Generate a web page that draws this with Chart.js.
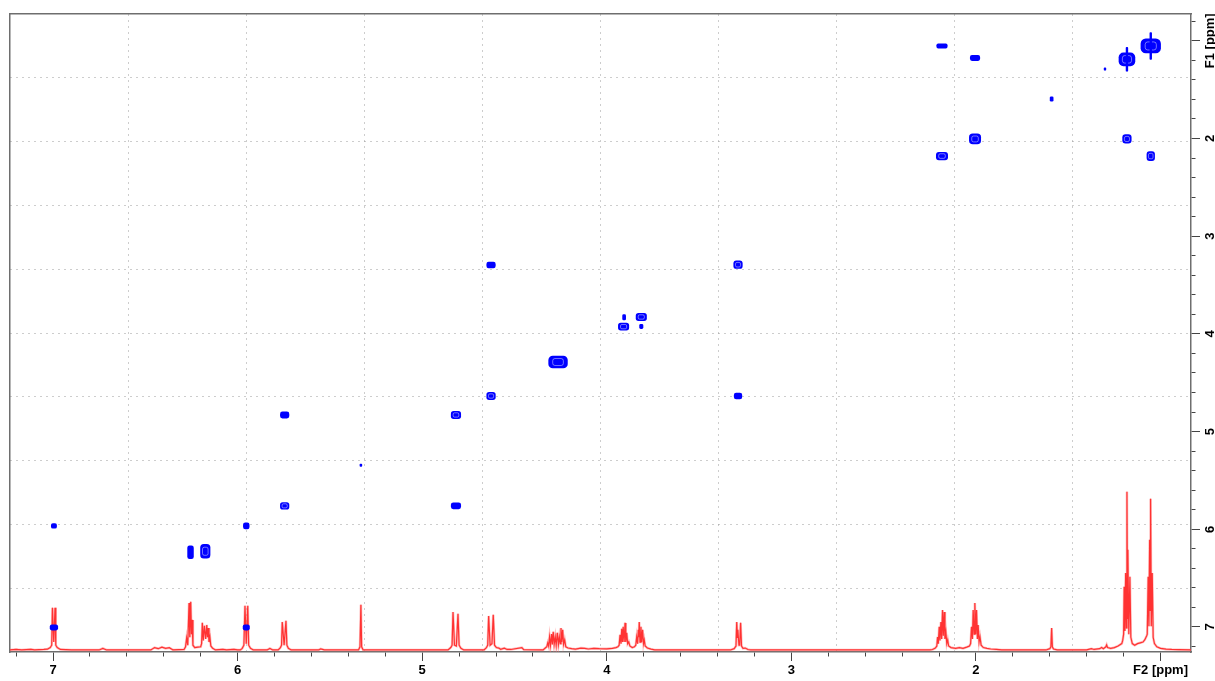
<!DOCTYPE html>
<html>
<head>
<meta charset="utf-8">
<script src="https://cdn.jsdelivr.net/npm/chart.js@4/dist/chart.umd.min.js"></script>
<style>
  html, body { margin: 0; padding: 0; background: #fff; }
  canvas { display: block; }
</style>
</head>
<body>
<canvas id="cosyChart" width="1215" height="681"></canvas>
<script>
'use strict';

// F2 / F1 window (ppm)
const f2Range = [0.835, 7.233];
const f1Range = [0.726, 7.256];

// 1H projection along F2: [ppm, intensity], tallest line = 100
const projection = [
  [7.233, 0], [7.20, 0.3], [7.17, 0], [7.12, 0.4], [7.10, 0], [7.05, 0.3], [7.03, 0.5],
  [7.015, 1.5], [7.007, 3], [7.003, 26.6], [6.996, 5], [6.989, 26.6], [6.985, 3], [6.977, 1.5],
  [6.96, 0.3], [6.90, 0], [6.75, 0], [6.73, 1], [6.71, 0],
  [6.47, 0], [6.45, 1.5], [6.43, 0.8], [6.41, 1.8], [6.39, 1], [6.37, 1.4], [6.35, 0],
  [6.29, 0.3], [6.282, 2], [6.276, 7.6], [6.27, 3], [6.263, 29.7], [6.259, 8], [6.254, 30.4],
  [6.25, 10], [6.247, 19], [6.242, 3], [6.232, 1.5], [6.215, 1.8],
  [6.200, 2], [6.195, 4], [6.191, 17.1], [6.186, 6], [6.180, 15.2], [6.173, 7], [6.167, 15.8],
  [6.163, 8], [6.159, 13.9], [6.155, 5], [6.150, 8.2], [6.145, 2.5], [6.135, 1], [6.12, 0],
  [6.08, 0.4], [6.06, 0], [6.02, 0.4], [6.0, 0],
  [5.985, 0], [5.975, 1], [5.966, 3], [5.960, 27.9], [5.953, 4], [5.945, 27.9], [5.940, 3],
  [5.930, 1], [5.915, 0], [5.84, 0], [5.825, 1], [5.81, 0],
  [5.78, 0], [5.768, 1.5], [5.762, 3], [5.758, 17.7], [5.748, 3], [5.738, 18.4], [5.733, 3],
  [5.725, 1], [5.71, 0], [5.56, 0], [5.55, 0.7], [5.53, 0],
  [5.345, 0], [5.337, 2], [5.332, 28.5], [5.328, 2], [5.32, 0],
  [4.86, 0], [4.845, 1.5], [4.838, 3], [4.833, 24], [4.825, 3], [4.815, 2.5], [4.806, 22.8],
  [4.800, 3], [4.79, 1], [4.775, 0],
  [4.665, 0], [4.652, 1.5], [4.645, 3], [4.640, 21.5], [4.632, 3], [4.622, 4], [4.615, 22.2],
  [4.608, 3], [4.598, 1.5], [4.585, 1.2], [4.575, 0.4], [4.555, 1.1], [4.54, 0.3], [4.52, 0.3],
  [4.46, 1.5], [4.45, 0.2], [4.36, 0],
  [4.345, 0], [4.33, 1.5], [4.325, 2], [4.320, 4.4], [4.315, 2.5], [4.310, 8.2], [4.305, 3],
  [4.299, 10.1], [4.295, 3.5], [4.290, 11.4], [4.285, 3.5], [4.279, 8.2], [4.274, 3],
  [4.268, 10.8], [4.262, 3.5], [4.257, 8.2], [4.252, 4], [4.248, 13.9], [4.244, 5],
  [4.239, 12.7], [4.234, 3.5], [4.228, 6.3], [4.222, 2], [4.21, 1.2], [4.19, 0.8], [4.17, 0.5],
  [4.14, 1.2], [4.12, 1], [4.10, 0.6], [4.07, 1], [4.04, 0.8], [4.00, 0.7], [3.97, 1], [3.95, 1.5],
  [3.94, 2], [3.933, 3], [3.928, 9.5], [3.923, 4], [3.919, 13.3], [3.915, 5], [3.911, 14.6],
  [3.906, 5], [3.901, 17.1], [3.897, 5], [3.892, 10.8], [3.887, 4], [3.881, 5.1], [3.875, 2.5],
  [3.862, 1.5], [3.85, 2],
  [3.843, 3], [3.838, 8.2], [3.833, 4], [3.829, 12.7], [3.827, 8], [3.824, 17.7], [3.820, 5],
  [3.815, 14.6], [3.811, 5], [3.806, 12.7], [3.801, 4], [3.797, 6.3], [3.792, 2.5], [3.78, 1.2],
  [3.76, 0.5], [3.74, 0],
  [3.33, 0], [3.31, 0.8], [3.30, 2.5], [3.296, 17.7], [3.292, 8], [3.290, 12.7], [3.284, 3],
  [3.280, 3], [3.275, 17.1], [3.270, 2.5], [3.262, 1], [3.25, 1.2], [3.235, 0.3], [3.22, 0],
  [2.25, 0], [2.235, 0.3], [2.22, 1.2], [2.212, 2.5], [2.208, 8.2], [2.204, 4], [2.199, 14.6],
  [2.195, 6], [2.190, 17.7], [2.186, 7], [2.181, 25.3], [2.177, 9], [2.172, 24], [2.168, 7],
  [2.163, 11.4], [2.158, 4], [2.153, 6.3], [2.148, 2.5], [2.135, 1.5], [2.11, 1], [2.09, 1.5],
  [2.07, 1], [2.05, 1.8],
  [2.035, 2.5], [2.029, 4], [2.024, 14.6], [2.019, 7], [2.015, 25.3], [2.010, 10], [2.006, 29.7],
  [2.001, 10], [1.997, 25.3], [1.992, 7], [1.988, 15.8], [1.983, 5], [1.978, 8.2], [1.972, 3],
  [1.96, 1.5], [1.94, 1], [1.92, 0.6], [1.89, 0.3], [1.86, 0],
  [1.62, 0], [1.60, 0.8], [1.594, 2], [1.590, 13.9], [1.586, 2], [1.58, 0.6], [1.56, 0],
  [1.40, 0], [1.375, 0.8], [1.36, 0.3], [1.33, 0.8], [1.319, 1.5], [1.31, 0.8], [1.296, 2],
  [1.292, 3.2], [1.287, 1.5], [1.27, 1], [1.25, 1.5], [1.23, 2.5], [1.21, 4],
  [1.205, 6], [1.200, 10], [1.197, 39.9], [1.193, 12], [1.189, 48.7], [1.185, 14], [1.182, 100],
  [1.179, 20], [1.177, 63.3], [1.172, 10], [1.166, 46.2], [1.161, 8], [1.153, 4], [1.14, 3],
  [1.125, 4], [1.11, 4.5], [1.095, 5], [1.085, 6.5], [1.075, 9],
  [1.072, 10], [1.067, 46.2], [1.063, 15], [1.059, 69.6], [1.057, 25], [1.054, 95.6],
  [1.050, 15], [1.045, 48.7], [1.040, 8], [1.033, 4], [1.02, 2], [1.00, 1], [0.97, 0.5],
  [0.94, 0.3], [0.90, 0.2], [0.835, 0]
];

// COSY cross / diagonal peaks: centre (F2, F1) and contour span (ppm)
const peakF2 = [6.995, 6.995, 6.255, 6.175, 5.953, 5.953, 5.745, 5.745, 5.332, 4.817,
  4.817, 4.627, 4.627, 4.264, 3.906, 3.909, 3.813, 3.813, 3.289, 3.289,
  2.184, 2.184, 2.005, 2.005, 1.590, 1.301, 1.182, 1.182, 1.053, 1.053,
  1.182, 1.053];
const peakF1 = [5.965, 7.005, 6.235, 6.225, 5.965, 7.005, 4.830, 5.760, 5.345, 4.830,
  5.760, 3.295, 4.636, 4.288, 3.830, 3.926, 3.827, 3.924, 3.292, 4.636,
  1.053, 2.180, 1.176, 2.005, 1.596, 1.289, 1.190, 1.190, 1.053, 1.053,
  2.005, 2.180];
const spanF2 = [0.032, 0.045, 0.035, 0.055, 0.035, 0.038, 0.050, 0.050, 0.014, 0.055,
  0.055, 0.050, 0.050, 0.105, 0.020, 0.060, 0.060, 0.022, 0.050, 0.045,
  0.060, 0.065, 0.055, 0.065, 0.020, 0.012, 0.090, 0.012, 0.110, 0.012,
  0.050, 0.045];
const spanF1 = [0.055, 0.060, 0.140, 0.150, 0.070, 0.060, 0.070, 0.075, 0.030, 0.080,
  0.070, 0.065, 0.080, 0.130, 0.060, 0.080, 0.080, 0.050, 0.085, 0.065,
  0.050, 0.085, 0.060, 0.110, 0.050, 0.030, 0.140, 0.250, 0.150, 0.280,
  0.095, 0.100];

const axisFont = { family: "'Liberation Sans', Arial, sans-serif", size: 13, weight: 'bold', lineHeight: 1 };
const frameColor = '#6e6e6e';
const gridColor = '#9a9a9a';

const isWhole = (v) => Math.abs(v - Math.round(v)) < 1e-6;

// contour blobs drawn at the positions the scatter elements were laid out at
const contourPlugin = {
  id: 'contours',
  afterDatasetsDraw(chart) {
    const meta = chart.getDatasetMeta(2);
    const xs = chart.scales.x;
    const ys = chart.scales.y;
    const { ctx, chartArea } = chart;
    ctx.save();
    ctx.beginPath();
    ctx.rect(chartArea.left, chartArea.top, chartArea.right - chartArea.left, chartArea.bottom - chartArea.top);
    ctx.clip();
    meta.data.forEach((pt, i) => {
      const rx = Math.max(1.2, Math.abs(xs.getPixelForValue(peakF2[i] + spanF2[i] / 2) - pt.x));
      const ry = Math.max(1.2, Math.abs(ys.getPixelForValue(peakF1[i] + spanF1[i] / 2) - pt.y));
      const r = Math.min(rx, ry) * 0.7;
      ctx.fillStyle = '#0000ff';
      ctx.beginPath();
      ctx.roundRect(pt.x - rx, pt.y - ry, rx * 2, ry * 2, r);
      ctx.fill();
      if (rx >= 4 && ry >= 3.5) {
        // inner contour level
        ctx.strokeStyle = 'rgba(255,255,255,0.55)';
        ctx.lineWidth = 0.8;
        ctx.beginPath();
        ctx.roundRect(pt.x - rx * 0.55, pt.y - ry * 0.55, rx * 1.1, ry * 1.1, r * 0.5);
        ctx.stroke();
      }
    });
    ctx.restore();
  }
};

// F1 labels sit rotated beside the right-hand axis
const f1LabelPlugin = {
  id: 'f1Labels',
  afterDraw(chart) {
    const ys = chart.scales.y;
    const { ctx } = chart;
    ctx.save();
    ctx.fillStyle = '#000';
    ctx.font = `${axisFont.weight} ${axisFont.size}px ${axisFont.family}`;
    ctx.textAlign = 'center';
    ctx.textBaseline = 'middle';
    ys.ticks.forEach((t) => {
      if (!isWhole(t.value)) return;
      const v = Math.round(t.value);
      ctx.save();
      ctx.translate(ys.left + 19, ys.getPixelForValue(t.value));
      ctx.rotate(-Math.PI / 2);
      ctx.fillText(v === 1 ? 'F1 [ppm]' : String(v), 0, 0);
      ctx.restore();
    });
    ctx.restore();
  }
};

const tickDash = (ctx) => (isWhole(ctx.tick.value) ? [] : [4, 40]);
const edgeless = (ctx) => (ctx.tick.value === 0 || ctx.tick.value === 10 ? 'rgba(0,0,0,0)' : gridColor);

const spectrum = projection.map(([x, y]) => ({ x, y }));

const chart = new Chart(document.getElementById('cosyChart').getContext('2d'), {
  type: 'scatter',
  data: {
    datasets: [
      {
        type: 'line',
        data: spectrum,
        xAxisID: 'x',
        yAxisID: 'yI',
        borderColor: 'rgba(255,110,110,0.45)',
        borderWidth: 2.5,
        pointRadius: 0,
        tension: 0
      },
      {
        type: 'line',
        data: spectrum,
        xAxisID: 'x',
        yAxisID: 'yI',
        borderColor: '#ff0000',
        borderWidth: 1.2,
        pointRadius: 0,
        tension: 0
      },
      {
        data: peakF2.map((x, i) => ({ x, y: peakF1[i] })),
        xAxisID: 'x',
        yAxisID: 'y',
        pointRadius: 0,
        pointHoverRadius: 0
      }
    ]
  },
  options: {
    responsive: false,
    animation: false,
    events: [],
    layout: { padding: { top: 14, left: 10, right: 15, bottom: 1 } },
    plugins: {
      legend: { display: false },
      tooltip: { enabled: false }
    },
    scales: {
      x: {
        type: 'linear',
        position: 'bottom',
        reverse: true,
        min: f2Range[0],
        max: f2Range[1],
        grid: {
          drawOnChartArea: false,
          tickLength: 9,
          tickColor: '#444',
          tickBorderDash: tickDash
        },
        border: { color: frameColor, width: 1.5 },
        ticks: {
          stepSize: 0.2,
          includeBounds: false,
          autoSkip: false,
          maxRotation: 0,
          padding: 3,
          color: '#000',
          font: axisFont,
          callback: (v) => (isWhole(v) ? (Math.round(v) === 1 ? 'F2 [ppm]' : String(Math.round(v))) : '')
        }
      },
      y: {
        type: 'linear',
        position: 'right',
        reverse: true,
        min: f1Range[0],
        max: f1Range[1],
        grid: {
          drawOnChartArea: false,
          tickLength: 9,
          tickColor: '#444',
          tickBorderDash: tickDash
        },
        border: { color: frameColor, width: 1.5 },
        ticks: { stepSize: 0.2, includeBounds: false, autoSkip: false, display: false }
      },
      yI: {
        type: 'linear',
        display: false,
        min: -1.3,
        max: 402
      },
      gx: {
        type: 'linear',
        axis: 'x',
        position: 'top',
        min: 0,
        max: 10,
        grid: { color: edgeless, drawTicks: false, lineWidth: 1 },
        border: { color: frameColor, width: 1.5, dash: [1, 5] },
        ticks: { stepSize: 1, display: false }
      },
      gy: {
        type: 'linear',
        axis: 'y',
        position: 'left',
        min: 0,
        max: 10,
        grid: { color: edgeless, drawTicks: false, lineWidth: 1 },
        border: { color: frameColor, width: 1.5, dash: [1, 5] },
        ticks: { stepSize: 1, display: false }
      }
    }
  },
  plugins: [contourPlugin, f1LabelPlugin]
});
</script>
</body>
</html>
